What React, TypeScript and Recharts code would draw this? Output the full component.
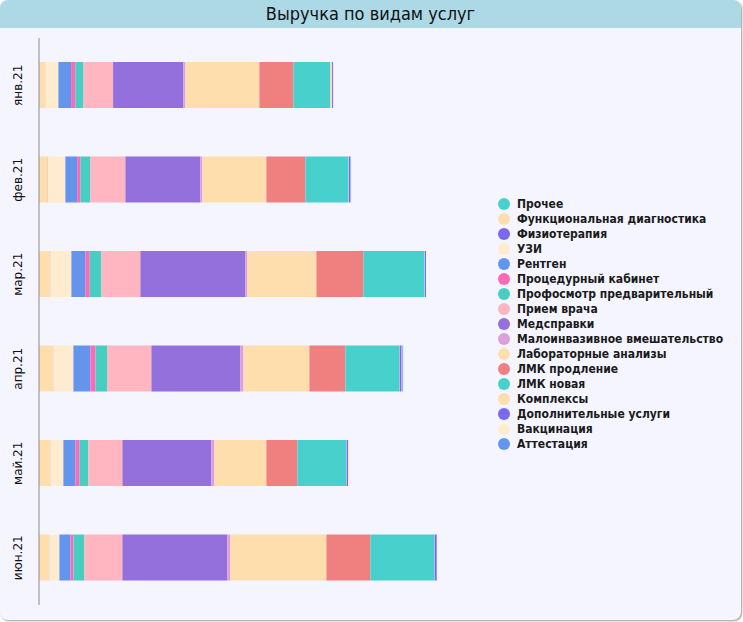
import { Bar, BarChart, Legend, XAxis, YAxis } from 'recharts';

// Месяцы и выручка по видам услуг, тыс. руб.
const months = ['янв.21', 'фев.21', 'мар.21', 'апр.21', 'май.21', 'июн.21'];

const prochee = [2, 2, 2, 2, 2, 2];
const funktsDiag = [60, 87, 110, 140, 110, 100];
const fizioterapiya = [2, 2, 2, 2, 2, 2];
const uzi = [130, 173, 210, 200, 130, 100];
const rentgen = [127, 117, 140, 170, 120, 110];
const protsedurnyi = [43, 33, 43, 50, 40, 30];
const profosmotr = [80, 100, 117, 120, 90, 110];
const priemVracha = [297, 350, 390, 440, 340, 380];
const medspravki = [703, 750, 1050, 890, 890, 1050];
const maloinvazivnoe = [20, 20, 20, 30, 30, 30];
const laboratornye = [740, 640, 690, 660, 520, 960];
const lmkProdlenie = [340, 390, 470, 360, 310, 440];
const lmkNovaya = [370, 433, 613, 540, 490, 640];
const kompleksy = [17, 3, 3, 3, 3, 3];
const dopUslugi = [10, 15, 10, 20, 15, 20];
const vaktsinatsiya = [0, 0, 0, 7, 15, 0];
const attestatsiya = [0, 0, 0, 7, 0, 0];

const seriesNames = [
    'Прочее',
    'Функциональная диагностика',
    'Физиотерапия',
    'УЗИ',
    'Рентген',
    'Процедурный кабинет',
    'Профосмотр предварительный',
    'Прием врача',
    'Медсправки',
    'Малоинвазивное вмешательство',
    'Лабораторные анализы',
    'ЛМК продление',
    'ЛМК новая',
    'Комплексы',
    'Дополнительные услуги',
    'Вакцинация',
    'Аттестация',
];

const seriesValues = [
    prochee,
    funktsDiag,
    fizioterapiya,
    uzi,
    rentgen,
    protsedurnyi,
    profosmotr,
    priemVracha,
    medspravki,
    maloinvazivnoe,
    laboratornye,
    lmkProdlenie,
    lmkNovaya,
    kompleksy,
    dopUslugi,
    vaktsinatsiya,
    attestatsiya,
];

const COLORS = [
    '#48D1CC',
    '#FFDEAD',
    '#7B68EE',
    '#FFEBCD',
    '#6495ED',
    '#FF69B4',
    '#48CDC2',
    '#FFB6C1',
    '#9370DB',
    '#DDA0DD',
    '#FFDEAD',
    '#F08080',
    '#48D1CC',
    '#FFDEAD',
    '#7B68EE',
    '#FFEBCD',
    '#6495ED',
];

const rows = months.map((month, i) => {
    const row: Record<string, string | number> = { month };
    seriesNames.forEach((name, j) => {
        row[name] = seriesValues[j][i];
    });
    return row;
});

const MonthTick = ({ y, payload }: any) => (
    <text
        x={22}
        y={y}
        transform={`rotate(-90, 22, ${y})`}
        textAnchor="middle"
        fontSize={12}
        fill="#111"
        fontFamily="DejaVu Sans, sans-serif"
    >
        {payload.value}
    </text>
);

// legend keeps the series order instead of sorting by name
const seriesOrder = (item: any) => seriesNames.indexOf(item.value);

const ServiceLegend = ({ payload }: any) => {
    const items = [...(payload || [])].sort(
        (a: any, b: any) => seriesOrder(a) - seriesOrder(b)
    );
    return (
        <div style={{ width: 251 }}>
            {items.map((entry: any) => (
                <div
                    key={entry.value}
                    style={{
                        height: 15,
                        display: 'flex',
                        alignItems: 'center',
                        paddingLeft: 8,
                        fontFamily: 'DejaVu Sans Condensed, DejaVu Sans, sans-serif',
                        fontWeight: 'bold',
                        fontSize: 12,
                        color: '#1a1a1a',
                        whiteSpace: 'nowrap',
                    }}
                >
                    <span
                        style={{
                            width: 12,
                            height: 12,
                            borderRadius: '50%',
                            background: entry.color,
                            marginRight: 7,
                            flexShrink: 0,
                        }}
                    />
                    {entry.value}
                </div>
            ))}
        </div>
    );
};

export default function App() {
    return (
        <div
            style={{
                position: 'absolute',
                left: 0,
                top: 0,
                width: 741,
                height: 620,
                background: '#F5F5FF',
                borderRadius: 8,
                boxShadow: '1px 1px 2px #9a9a9a',
                overflow: 'hidden',
            }}
        >
            <div
                style={{
                    height: 28,
                    lineHeight: '28px',
                    background: '#ADD8E6',
                    textAlign: 'center',
                    fontSize: 18,
                    fontFamily: 'DejaVu Sans Condensed, DejaVu Sans, sans-serif',
                    color: '#111',
                }}
            >
                Выручка по видам услуг
            </div>
            <BarChart
                width={741}
                height={592}
                layout="vertical"
                data={rows}
                margin={{ top: 10, right: 0, bottom: 15, left: 0 }}
                barSize={46}
            >
                <XAxis type="number" hide domain={[0, 4510]} />
                <YAxis
                    type="category"
                    dataKey="month"
                    width={39}
                    tickLine={false}
                    axisLine={{ stroke: '#8a8a8a' }}
                    tick={<MonthTick />}
                />
                <Legend
                    layout="vertical"
                    align="right"
                    verticalAlign="middle"
                    itemSorter={seriesOrder}
                    content={<ServiceLegend />}
                    wrapperStyle={{ top: 168, right: 0, width: 251 }}
                />
                {seriesNames.map((name, j) => (
                    <Bar
                        key={name}
                        dataKey={name}
                        stackId="revenue"
                        fill={COLORS[j]}
                        isAnimationActive={false}
                    />
                ))}
            </BarChart>
        </div>
    );
}
